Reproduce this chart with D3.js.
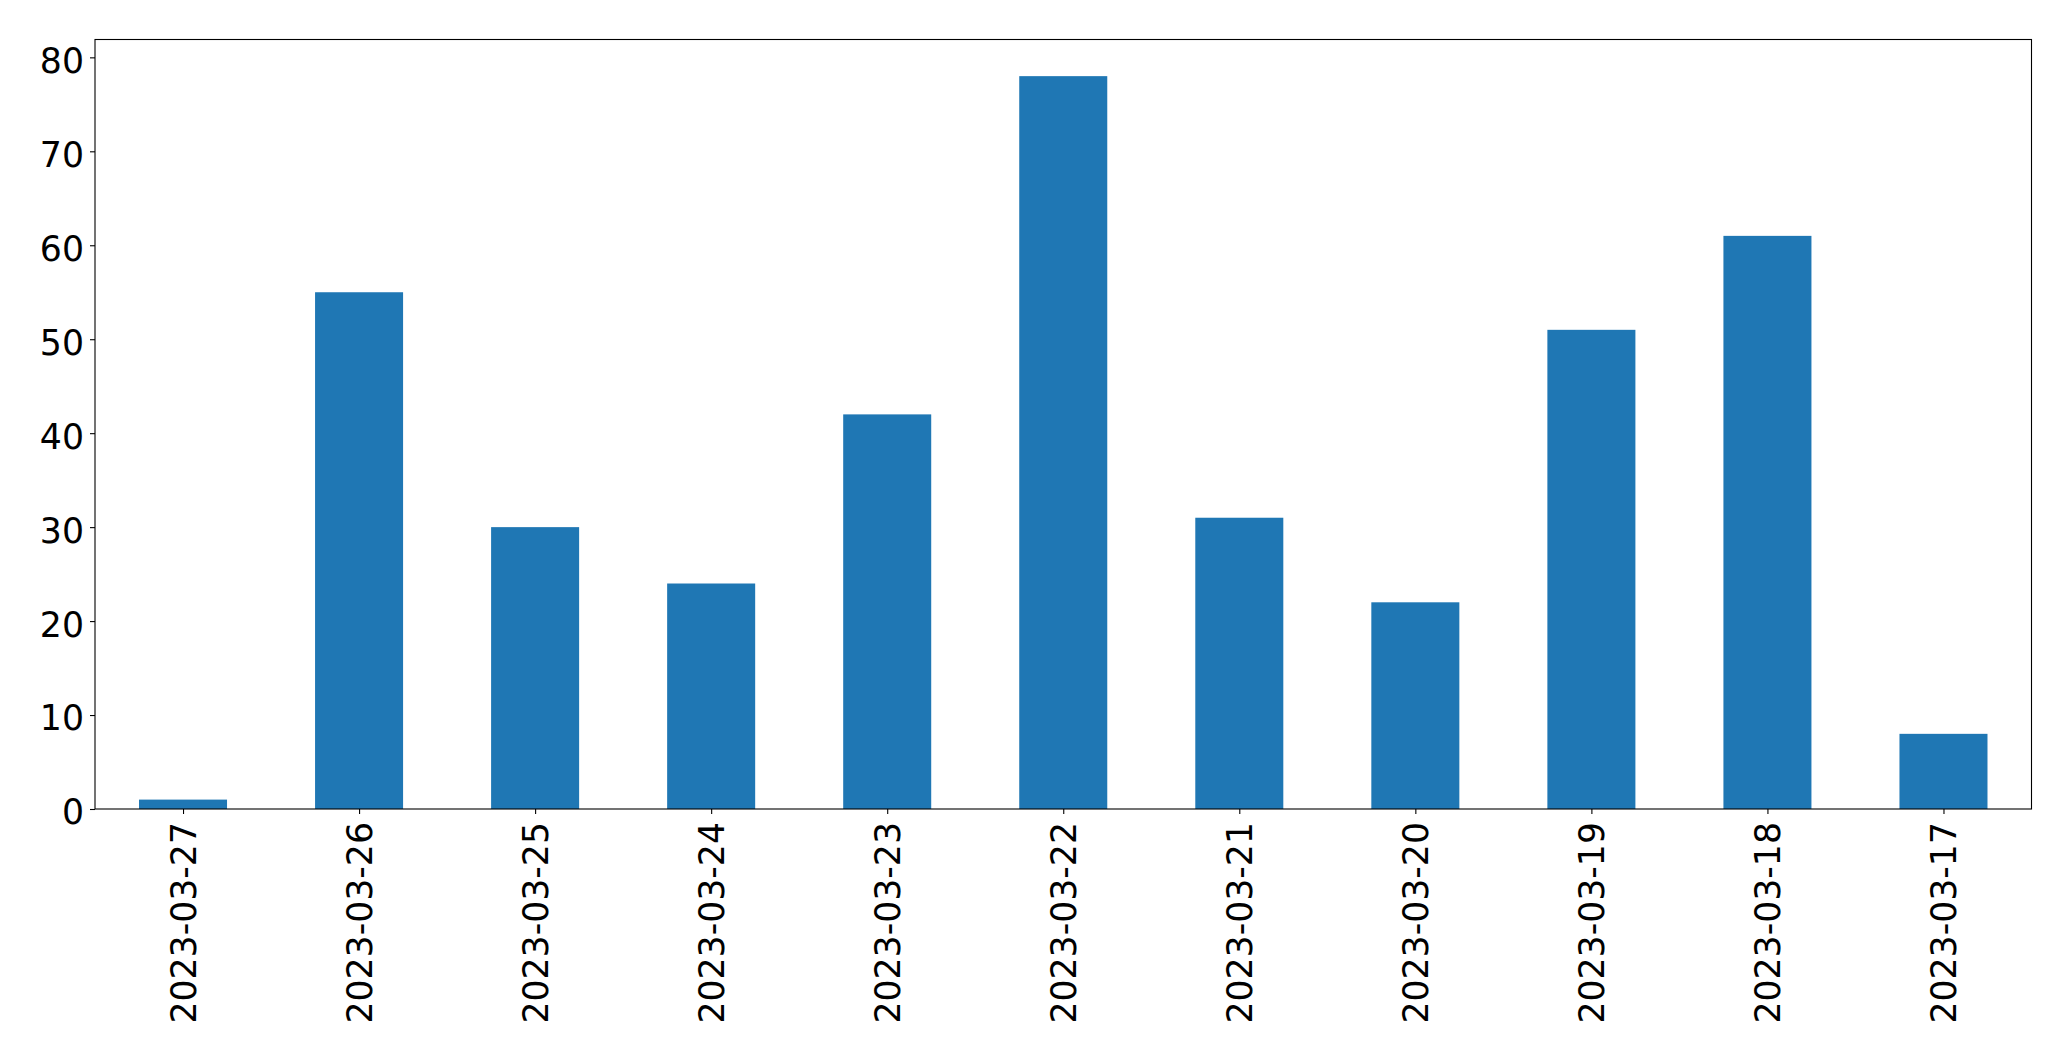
<!DOCTYPE html>
<html><head><meta charset="utf-8">
<script src="https://cdn.jsdelivr.net/npm/d3@7"></script>
<style>
html,body{margin:0;padding:0;background:#fff;}
svg text{font-family:"DejaVu Sans",sans-serif;}
</style></head>
<body>
<svg id="chart" width="2071" height="1061"></svg>
<script>
const categories = ["2023-03-27","2023-03-26","2023-03-25","2023-03-24","2023-03-23","2023-03-22","2023-03-21","2023-03-20","2023-03-19","2023-03-18","2023-03-17"];
const values = [1,55,30,24,42,78,31,22,51,61,8];
const yTicks = [0,10,20,30,40,50,60,70,80];

const W = 2071, H = 1061;
const m = {left:95, right:W-2031.5, top:39.5, bottom:H-809};
const svg = d3.select("#chart");
const iw = W - m.left - m.right, ih = H - m.top - m.bottom;
const g = svg.append("g").attr("transform",`translate(${m.left},${m.top})`);

const x = d3.scaleLinear().domain([-0.5, categories.length-0.5]).range([0, iw]);
const y = d3.scaleLinear().domain([0, d3.max(values)*1.05]).range([ih, 0]);

g.selectAll("rect.bar").data(values).join("rect")
  .attr("class","bar")
  .attr("x",(d,i)=>x(i-0.25))
  .attr("width",(d,i)=>x(i+0.25)-x(i-0.25))
  .attr("y",d=>y(d))
  .attr("height",d=>y(0)-y(d))
  .attr("fill","#1f77b4");

const fs = 34.7;
const yAxis = g.append("g").call(d3.axisLeft(y).tickValues(yTicks).tickFormat(d3.format("d")).tickSize(5).tickPadding(6));
yAxis.select(".domain").remove();
yAxis.selectAll("text").attr("font-size",fs).attr("fill","#000").attr("font-family","DejaVu Sans").attr("dy","0.43em");
yAxis.selectAll("line").attr("stroke","#000").attr("stroke-width",1.1);

const xAxis = g.append("g").attr("transform",`translate(0,${ih})`)
  .call(d3.axisBottom(x).tickValues(d3.range(categories.length)).tickFormat(i=>categories[i]).tickSize(5).tickPadding(0));
xAxis.select(".domain").remove();
xAxis.selectAll("line").attr("stroke","#000").attr("stroke-width",1.1);
xAxis.selectAll("text")
  .attr("font-size",fs).attr("fill","#000").attr("font-family","DejaVu Sans")
  .attr("text-anchor","end")
  .attr("dy","0.35em")
  .attr("transform","translate(0,13) rotate(-90)")
  .attr("x",0).attr("y",0);

g.append("rect").attr("x",0).attr("y",0).attr("width",iw).attr("height",ih)
  .attr("fill","none").attr("stroke","#000").attr("stroke-width",1.1);
</script>
</body></html>
